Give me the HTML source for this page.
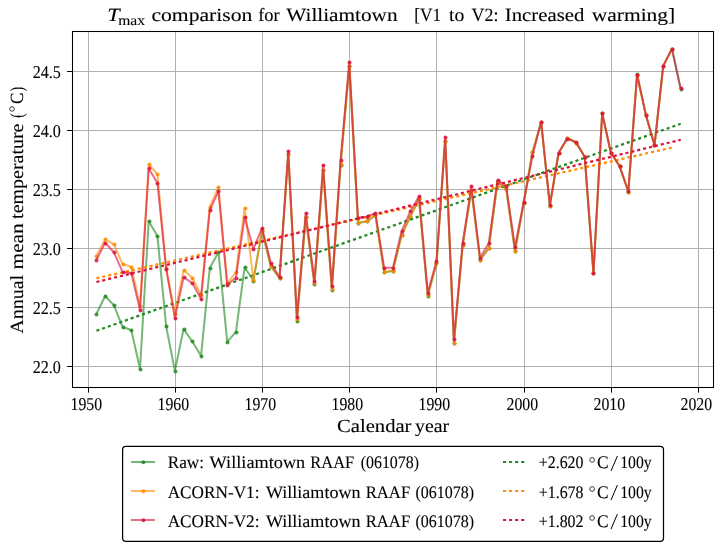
<!DOCTYPE html>
<html><head><meta charset="utf-8"><title>Tmax comparison for Williamtown</title>
<style>
html,body{margin:0;padding:0;background:#fff;}
svg{display:block;will-change:transform;opacity:0.9999;}
text{font-family:"Liberation Serif",serif;fill:#000;stroke:#000;stroke-width:0.1px;text-rendering:geometricPrecision;}
</style></head><body>
<svg width="726" height="551" viewBox="0 0 726 551">
<rect x="0" y="0" width="726" height="551" fill="#fff"/>
<g stroke="#b0b0b0" stroke-width="1" fill="none" shape-rendering="crispEdges"><line x1="88.5" y1="31.5" x2="88.5" y2="387.5"/><line x1="175.5" y1="31.5" x2="175.5" y2="387.5"/><line x1="262.5" y1="31.5" x2="262.5" y2="387.5"/><line x1="349.5" y1="31.5" x2="349.5" y2="387.5"/><line x1="436.5" y1="31.5" x2="436.5" y2="387.5"/><line x1="524.5" y1="31.5" x2="524.5" y2="387.5"/><line x1="611.5" y1="31.5" x2="611.5" y2="387.5"/><line x1="698.5" y1="31.5" x2="698.5" y2="387.5"/><line x1="72.5" y1="71.5" x2="713.5" y2="71.5"/><line x1="72.5" y1="130.5" x2="713.5" y2="130.5"/><line x1="72.5" y1="189.5" x2="713.5" y2="189.5"/><line x1="72.5" y1="248.5" x2="713.5" y2="248.5"/><line x1="72.5" y1="307.5" x2="713.5" y2="307.5"/><line x1="72.5" y1="366.5" x2="713.5" y2="366.5"/></g>
<clipPath id="ax"><rect x="72.5" y="31.5" width="641.0" height="356.0"/></clipPath>
<g clip-path="url(#ax)">
<g opacity="0.62"><polyline points="96.40,314.05 105.12,296.05 113.84,305.25 122.56,326.95 131.28,329.95 140.00,369.05 148.72,221.25 157.44,236.05 166.16,326.45 174.88,370.75 183.60,328.95 192.32,341.45 201.04,355.85 209.76,268.05 218.48,252.25 227.20,341.95 235.93,331.95 244.65,267.25 253.37,280.55 262.09,230.65 270.81,266.45 279.53,278.15 288.25,154.35 296.97,321.45 305.69,217.15 314.41,284.45 323.13,170.15 331.85,289.65 340.57,164.85 349.29,65.95 358.01,222.95 366.73,221.45 375.45,215.45 384.17,272.35 392.89,271.05 401.61,235.15 410.33,216.85 419.05,198.85 427.77,295.65 436.49,263.45 445.21,140.95 453.93,343.15 462.65,245.45 471.37,190.15 480.09,260.15 488.81,248.45 497.53,181.65 506.25,189.35 514.97,251.45 523.69,203.15 532.42,152.45 541.14,122.25 549.86,205.55 558.58,153.05 567.30,137.95 576.02,142.55 584.74,157.05 593.46,273.35 602.18,113.25 610.90,153.05 619.62,166.25 628.34,191.75 637.06,74.25 645.78,114.55 654.50,145.35 663.22,65.85 671.94,48.55 680.66,88.95" fill="none" stroke="#228b22" stroke-width="2.0" stroke-linejoin="round" stroke-linecap="butt"/></g>
<g fill="#228b22" opacity="0.85"><circle cx="96.5" cy="314.5" r="2.0"/><circle cx="105.5" cy="296.5" r="2.0"/><circle cx="114.5" cy="305.5" r="2.0"/><circle cx="123.5" cy="327.5" r="2.0"/><circle cx="131.5" cy="330.5" r="2.0"/><circle cx="140.5" cy="369.5" r="2.0"/><circle cx="149.5" cy="221.5" r="2.0"/><circle cx="157.5" cy="236.5" r="2.0"/><circle cx="166.5" cy="326.5" r="2.0"/><circle cx="175.5" cy="371.5" r="2.0"/><circle cx="184.5" cy="329.5" r="2.0"/><circle cx="192.5" cy="341.5" r="2.0"/><circle cx="201.5" cy="356.5" r="2.0"/><circle cx="210.5" cy="268.5" r="2.0"/><circle cx="218.5" cy="252.5" r="2.0"/><circle cx="227.5" cy="342.5" r="2.0"/><circle cx="236.5" cy="332.5" r="2.0"/><circle cx="245.5" cy="267.5" r="2.0"/><circle cx="253.5" cy="281.5" r="2.0"/><circle cx="262.5" cy="231.5" r="2.0"/><circle cx="271.5" cy="266.5" r="2.0"/><circle cx="280.5" cy="278.5" r="2.0"/><circle cx="288.5" cy="154.5" r="2.0"/><circle cx="297.5" cy="321.5" r="2.0"/><circle cx="306.5" cy="217.5" r="2.0"/><circle cx="314.5" cy="284.5" r="2.0"/><circle cx="323.5" cy="170.5" r="2.0"/><circle cx="332.5" cy="290.5" r="2.0"/><circle cx="341.5" cy="165.5" r="2.0"/><circle cx="349.5" cy="66.5" r="2.0"/><circle cx="358.5" cy="223.5" r="2.0"/><circle cx="367.5" cy="221.5" r="2.0"/><circle cx="375.5" cy="215.5" r="2.0"/><circle cx="384.5" cy="272.5" r="2.0"/><circle cx="393.5" cy="271.5" r="2.0"/><circle cx="402.5" cy="235.5" r="2.0"/><circle cx="410.5" cy="217.5" r="2.0"/><circle cx="419.5" cy="199.5" r="2.0"/><circle cx="428.5" cy="296.5" r="2.0"/><circle cx="436.5" cy="263.5" r="2.0"/><circle cx="445.5" cy="141.5" r="2.0"/><circle cx="454.5" cy="343.5" r="2.0"/><circle cx="463.5" cy="245.5" r="2.0"/><circle cx="471.5" cy="190.5" r="2.0"/><circle cx="480.5" cy="260.5" r="2.0"/><circle cx="489.5" cy="248.5" r="2.0"/><circle cx="498.5" cy="182.5" r="2.0"/><circle cx="506.5" cy="189.5" r="2.0"/><circle cx="515.5" cy="251.5" r="2.0"/><circle cx="524.5" cy="203.5" r="2.0"/><circle cx="532.5" cy="152.5" r="2.0"/><circle cx="541.5" cy="122.5" r="2.0"/><circle cx="550.5" cy="206.5" r="2.0"/><circle cx="559.5" cy="153.5" r="2.0"/><circle cx="567.5" cy="138.5" r="2.0"/><circle cx="576.5" cy="143.5" r="2.0"/><circle cx="585.5" cy="157.5" r="2.0"/><circle cx="593.5" cy="273.5" r="2.0"/><circle cx="602.5" cy="113.5" r="2.0"/><circle cx="611.5" cy="153.5" r="2.0"/><circle cx="620.5" cy="166.5" r="2.0"/><circle cx="628.5" cy="192.5" r="2.0"/><circle cx="637.5" cy="74.5" r="2.0"/><circle cx="646.5" cy="115.5" r="2.0"/><circle cx="654.5" cy="145.5" r="2.0"/><circle cx="663.5" cy="66.5" r="2.0"/><circle cx="672.5" cy="49.5" r="2.0"/><circle cx="681.5" cy="89.5" r="2.0"/></g>
<line x1="96.4" y1="330.8" x2="680.7" y2="123.8" stroke="#228b22" stroke-width="2.25" stroke-dasharray="3.1 2.95"/>
<g opacity="0.62"><polyline points="96.40,255.95 105.12,239.25 113.84,244.45 122.56,264.05 131.28,266.75 140.00,306.45 148.72,164.45 157.44,174.25 166.16,268.25 174.88,313.75 183.60,270.05 192.32,277.75 201.04,295.25 209.76,206.95 218.48,187.25 227.20,283.45 235.93,272.25 244.65,208.05 253.37,279.75 262.09,230.25 270.81,266.05 279.53,277.75 288.25,153.95 296.97,319.45 305.69,216.75 314.41,283.05 323.13,169.75 331.85,289.25 340.57,164.45 349.29,65.55 358.01,222.55 366.73,221.05 375.45,215.05 384.17,271.95 392.89,270.55 401.61,234.75 410.33,216.45 419.05,198.45 427.77,295.25 436.49,263.05 445.21,140.55 453.93,342.75 462.65,245.05 471.37,189.75 480.09,259.75 488.81,248.05 497.53,181.25 506.25,188.95 514.97,251.05 523.69,202.75 532.42,152.05 541.14,122.25 549.86,205.55 558.58,153.05 567.30,138.25 576.02,142.55 584.74,157.05 593.46,273.35 602.18,113.25 610.90,153.05 619.62,166.25 628.34,191.75 637.06,74.75 645.78,114.55 654.50,145.35 663.22,65.85 671.94,49.05" fill="none" stroke="#ff8c00" stroke-width="2.0" stroke-linejoin="round" stroke-linecap="butt"/></g>
<g fill="#ff8c00" opacity="0.85"><circle cx="96.5" cy="256.5" r="2.0"/><circle cx="105.5" cy="239.5" r="2.0"/><circle cx="114.5" cy="244.5" r="2.0"/><circle cx="123.5" cy="264.5" r="2.0"/><circle cx="131.5" cy="267.5" r="2.0"/><circle cx="140.5" cy="306.5" r="2.0"/><circle cx="149.5" cy="164.5" r="2.0"/><circle cx="157.5" cy="174.5" r="2.0"/><circle cx="166.5" cy="268.5" r="2.0"/><circle cx="175.5" cy="314.5" r="2.0"/><circle cx="184.5" cy="270.5" r="2.0"/><circle cx="192.5" cy="278.5" r="2.0"/><circle cx="201.5" cy="295.5" r="2.0"/><circle cx="210.5" cy="207.5" r="2.0"/><circle cx="218.5" cy="187.5" r="2.0"/><circle cx="227.5" cy="283.5" r="2.0"/><circle cx="236.5" cy="272.5" r="2.0"/><circle cx="245.5" cy="208.5" r="2.0"/><circle cx="253.5" cy="280.5" r="2.0"/><circle cx="262.5" cy="230.5" r="2.0"/><circle cx="271.5" cy="266.5" r="2.0"/><circle cx="280.5" cy="278.5" r="2.0"/><circle cx="288.5" cy="154.5" r="2.0"/><circle cx="297.5" cy="319.5" r="2.0"/><circle cx="306.5" cy="217.5" r="2.0"/><circle cx="314.5" cy="283.5" r="2.0"/><circle cx="323.5" cy="170.5" r="2.0"/><circle cx="332.5" cy="289.5" r="2.0"/><circle cx="341.5" cy="164.5" r="2.0"/><circle cx="349.5" cy="66.5" r="2.0"/><circle cx="358.5" cy="223.5" r="2.0"/><circle cx="367.5" cy="221.5" r="2.0"/><circle cx="375.5" cy="215.5" r="2.0"/><circle cx="384.5" cy="272.5" r="2.0"/><circle cx="393.5" cy="271.5" r="2.0"/><circle cx="402.5" cy="235.5" r="2.0"/><circle cx="410.5" cy="216.5" r="2.0"/><circle cx="419.5" cy="198.5" r="2.0"/><circle cx="428.5" cy="295.5" r="2.0"/><circle cx="436.5" cy="263.5" r="2.0"/><circle cx="445.5" cy="141.5" r="2.0"/><circle cx="454.5" cy="343.5" r="2.0"/><circle cx="463.5" cy="245.5" r="2.0"/><circle cx="471.5" cy="190.5" r="2.0"/><circle cx="480.5" cy="260.5" r="2.0"/><circle cx="489.5" cy="248.5" r="2.0"/><circle cx="498.5" cy="181.5" r="2.0"/><circle cx="506.5" cy="189.5" r="2.0"/><circle cx="515.5" cy="251.5" r="2.0"/><circle cx="524.5" cy="203.5" r="2.0"/><circle cx="532.5" cy="152.5" r="2.0"/><circle cx="541.5" cy="122.5" r="2.0"/><circle cx="550.5" cy="206.5" r="2.0"/><circle cx="559.5" cy="153.5" r="2.0"/><circle cx="567.5" cy="138.5" r="2.0"/><circle cx="576.5" cy="143.5" r="2.0"/><circle cx="585.5" cy="157.5" r="2.0"/><circle cx="593.5" cy="273.5" r="2.0"/><circle cx="602.5" cy="113.5" r="2.0"/><circle cx="611.5" cy="153.5" r="2.0"/><circle cx="620.5" cy="166.5" r="2.0"/><circle cx="628.5" cy="192.5" r="2.0"/><circle cx="637.5" cy="75.5" r="2.0"/><circle cx="646.5" cy="115.5" r="2.0"/><circle cx="654.5" cy="145.5" r="2.0"/><circle cx="663.5" cy="66.5" r="2.0"/><circle cx="672.5" cy="49.5" r="2.0"/></g>
<line x1="96.4" y1="278.3" x2="671.9" y2="147.6" stroke="#ff8c00" stroke-width="2.25" stroke-dasharray="3.1 2.95"/>
<g opacity="0.62"><polyline points="96.40,260.05 105.12,242.75 113.84,252.25 122.56,271.95 131.28,273.05 140.00,309.85 148.72,168.45 157.44,183.05 166.16,268.95 174.88,318.05 183.60,277.25 192.32,283.05 201.04,298.95 209.76,210.05 218.48,191.45 227.20,284.75 235.93,277.75 244.65,217.05 253.37,248.95 262.09,227.95 270.81,263.05 279.53,277.25 288.25,151.05 296.97,316.95 305.69,212.95 314.41,280.75 323.13,165.05 331.85,285.95 340.57,160.05 349.29,61.95 358.01,217.75 366.73,216.75 375.45,213.05 384.17,267.75 392.89,267.75 401.61,231.05 410.33,211.45 419.05,196.25 427.77,292.75 436.49,260.95 445.21,136.95 453.93,338.95 462.65,243.05 471.37,186.05 480.09,257.75 488.81,243.05 497.53,179.75 506.25,186.45 514.97,246.95 523.69,201.95 532.42,156.05 541.14,121.95 549.86,205.15 558.58,152.75 567.30,138.55 576.02,142.05 584.74,156.75 593.46,273.05 602.18,113.05 610.90,152.75 619.62,165.95 628.34,191.45 637.06,74.75 645.78,114.55 654.50,145.15 663.22,65.85 671.94,49.05 680.66,88.45" fill="none" stroke="#dc143c" stroke-width="2.0" stroke-linejoin="round" stroke-linecap="butt"/></g>
<g fill="#dc143c" opacity="0.85"><circle cx="96.5" cy="260.5" r="2.0"/><circle cx="105.5" cy="243.5" r="2.0"/><circle cx="114.5" cy="252.5" r="2.0"/><circle cx="123.5" cy="272.5" r="2.0"/><circle cx="131.5" cy="273.5" r="2.0"/><circle cx="140.5" cy="310.5" r="2.0"/><circle cx="149.5" cy="168.5" r="2.0"/><circle cx="157.5" cy="183.5" r="2.0"/><circle cx="166.5" cy="269.5" r="2.0"/><circle cx="175.5" cy="318.5" r="2.0"/><circle cx="184.5" cy="277.5" r="2.0"/><circle cx="192.5" cy="283.5" r="2.0"/><circle cx="201.5" cy="299.5" r="2.0"/><circle cx="210.5" cy="210.5" r="2.0"/><circle cx="218.5" cy="191.5" r="2.0"/><circle cx="227.5" cy="285.5" r="2.0"/><circle cx="236.5" cy="278.5" r="2.0"/><circle cx="245.5" cy="217.5" r="2.0"/><circle cx="253.5" cy="249.5" r="2.0"/><circle cx="262.5" cy="228.5" r="2.0"/><circle cx="271.5" cy="263.5" r="2.0"/><circle cx="280.5" cy="277.5" r="2.0"/><circle cx="288.5" cy="151.5" r="2.0"/><circle cx="297.5" cy="317.5" r="2.0"/><circle cx="306.5" cy="213.5" r="2.0"/><circle cx="314.5" cy="281.5" r="2.0"/><circle cx="323.5" cy="165.5" r="2.0"/><circle cx="332.5" cy="286.5" r="2.0"/><circle cx="341.5" cy="160.5" r="2.0"/><circle cx="349.5" cy="62.5" r="2.0"/><circle cx="358.5" cy="218.5" r="2.0"/><circle cx="367.5" cy="217.5" r="2.0"/><circle cx="375.5" cy="213.5" r="2.0"/><circle cx="384.5" cy="268.5" r="2.0"/><circle cx="393.5" cy="268.5" r="2.0"/><circle cx="402.5" cy="231.5" r="2.0"/><circle cx="410.5" cy="211.5" r="2.0"/><circle cx="419.5" cy="196.5" r="2.0"/><circle cx="428.5" cy="293.5" r="2.0"/><circle cx="436.5" cy="261.5" r="2.0"/><circle cx="445.5" cy="137.5" r="2.0"/><circle cx="454.5" cy="339.5" r="2.0"/><circle cx="463.5" cy="243.5" r="2.0"/><circle cx="471.5" cy="186.5" r="2.0"/><circle cx="480.5" cy="258.5" r="2.0"/><circle cx="489.5" cy="243.5" r="2.0"/><circle cx="498.5" cy="180.5" r="2.0"/><circle cx="506.5" cy="186.5" r="2.0"/><circle cx="515.5" cy="247.5" r="2.0"/><circle cx="524.5" cy="202.5" r="2.0"/><circle cx="532.5" cy="156.5" r="2.0"/><circle cx="541.5" cy="122.5" r="2.0"/><circle cx="550.5" cy="205.5" r="2.0"/><circle cx="559.5" cy="153.5" r="2.0"/><circle cx="567.5" cy="139.5" r="2.0"/><circle cx="576.5" cy="142.5" r="2.0"/><circle cx="585.5" cy="157.5" r="2.0"/><circle cx="593.5" cy="273.5" r="2.0"/><circle cx="602.5" cy="113.5" r="2.0"/><circle cx="611.5" cy="153.5" r="2.0"/><circle cx="620.5" cy="166.5" r="2.0"/><circle cx="628.5" cy="191.5" r="2.0"/><circle cx="637.5" cy="75.5" r="2.0"/><circle cx="646.5" cy="115.5" r="2.0"/><circle cx="654.5" cy="145.5" r="2.0"/><circle cx="663.5" cy="66.5" r="2.0"/><circle cx="672.5" cy="49.5" r="2.0"/><circle cx="681.5" cy="88.5" r="2.0"/></g>
<line x1="96.4" y1="282.0" x2="680.7" y2="139.8" stroke="#dc143c" stroke-width="2.25" stroke-dasharray="3.1 2.95"/>
</g>
<g stroke="#000" stroke-width="1"><line x1="88.5" y1="387.5" x2="88.5" y2="392.6"/><line x1="175.5" y1="387.5" x2="175.5" y2="392.6"/><line x1="262.5" y1="387.5" x2="262.5" y2="392.6"/><line x1="349.5" y1="387.5" x2="349.5" y2="392.6"/><line x1="436.5" y1="387.5" x2="436.5" y2="392.6"/><line x1="524.5" y1="387.5" x2="524.5" y2="392.6"/><line x1="611.5" y1="387.5" x2="611.5" y2="392.6"/><line x1="698.5" y1="387.5" x2="698.5" y2="392.6"/><line x1="67.1" y1="71.5" x2="72.5" y2="71.5"/><line x1="67.1" y1="130.5" x2="72.5" y2="130.5"/><line x1="67.1" y1="189.5" x2="72.5" y2="189.5"/><line x1="67.1" y1="248.5" x2="72.5" y2="248.5"/><line x1="67.1" y1="307.5" x2="72.5" y2="307.5"/><line x1="67.1" y1="366.5" x2="72.5" y2="366.5"/></g>
<rect x="72.5" y="31.5" width="641.0" height="356.0" fill="none" stroke="#000" stroke-width="1.05"/>
<text x="70.5" y="409.7" font-size="18.0" text-anchor="start" textLength="31.6" lengthAdjust="spacingAndGlyphs">1950</text>
<text x="157.5" y="409.7" font-size="18.0" text-anchor="start" textLength="31.6" lengthAdjust="spacingAndGlyphs">1960</text>
<text x="244.5" y="409.7" font-size="18.0" text-anchor="start" textLength="31.6" lengthAdjust="spacingAndGlyphs">1970</text>
<text x="331.5" y="409.7" font-size="18.0" text-anchor="start" textLength="31.6" lengthAdjust="spacingAndGlyphs">1980</text>
<text x="418.5" y="409.7" font-size="18.0" text-anchor="start" textLength="31.6" lengthAdjust="spacingAndGlyphs">1990</text>
<text x="506.5" y="409.7" font-size="18.0" text-anchor="start" textLength="31.6" lengthAdjust="spacingAndGlyphs">2000</text>
<text x="593.5" y="409.7" font-size="18.0" text-anchor="start" textLength="31.6" lengthAdjust="spacingAndGlyphs">2010</text>
<text x="680.5" y="409.7" font-size="18.0" text-anchor="start" textLength="31.6" lengthAdjust="spacingAndGlyphs">2020</text>
<text x="32.7" y="78.0" font-size="18.0" text-anchor="start" textLength="28.2" lengthAdjust="spacingAndGlyphs">24.5</text>
<text x="32.7" y="137.0" font-size="18.0" text-anchor="start" textLength="28.2" lengthAdjust="spacingAndGlyphs">24.0</text>
<text x="32.7" y="196.0" font-size="18.0" text-anchor="start" textLength="28.2" lengthAdjust="spacingAndGlyphs">23.5</text>
<text x="32.7" y="255.0" font-size="18.0" text-anchor="start" textLength="28.2" lengthAdjust="spacingAndGlyphs">23.0</text>
<text x="32.7" y="314.0" font-size="18.0" text-anchor="start" textLength="28.2" lengthAdjust="spacingAndGlyphs">22.5</text>
<text x="32.7" y="373.0" font-size="18.0" text-anchor="start" textLength="28.2" lengthAdjust="spacingAndGlyphs">22.0</text>
<text x="337.0" y="432.3" font-size="18.6" text-anchor="start" textLength="74.5" lengthAdjust="spacingAndGlyphs">Calendar</text>
<text x="415.0" y="432.3" font-size="18.6" text-anchor="start" textLength="34.2" lengthAdjust="spacingAndGlyphs">year</text>
<g transform="translate(22.9,333.7) rotate(-90)"><text x="0.0" y="0.0" font-size="18.6" text-anchor="start" textLength="58.8" lengthAdjust="spacingAndGlyphs">Annual</text>
<text x="64.3" y="0.0" font-size="18.6" text-anchor="start" textLength="46.1" lengthAdjust="spacingAndGlyphs">mean</text>
<text x="114.8" y="0.0" font-size="18.6" text-anchor="start" textLength="95.4" lengthAdjust="spacingAndGlyphs">temperature</text>
<text x="215.9" y="0.0" font-size="18.6" text-anchor="start" textLength="4.5" lengthAdjust="spacingAndGlyphs">(</text>
<circle cx="224.75" cy="-10.9" r="2.35" fill="none" stroke="#000" stroke-width="0.75"/><text x="229.7" y="0.0" font-size="18.6" text-anchor="start" textLength="11.4" lengthAdjust="spacingAndGlyphs">C</text>
<text x="242.5" y="0.0" font-size="18.6" text-anchor="start" textLength="4.3" lengthAdjust="spacingAndGlyphs">)</text>
</g>
<text x="107.3" y="20.7" font-size="18.6" font-style="italic" textLength="12.4" lengthAdjust="spacingAndGlyphs">T</text>
<text x="118.2" y="24.6" font-size="14.0" text-anchor="start" textLength="26.8" lengthAdjust="spacingAndGlyphs">max</text>
<text x="151.4" y="20.7" font-size="18.6" text-anchor="start" textLength="101.0" lengthAdjust="spacingAndGlyphs">comparison</text>
<text x="258.2" y="20.7" font-size="18.6" text-anchor="start" textLength="21.5" lengthAdjust="spacingAndGlyphs">for</text>
<text x="286.3" y="20.7" font-size="18.6" text-anchor="start" textLength="111.3" lengthAdjust="spacingAndGlyphs">Williamtown</text>
<text x="414.3" y="20.7" font-size="18.6" text-anchor="start" textLength="26.9" lengthAdjust="spacingAndGlyphs">[V1</text>
<text x="449.0" y="20.7" font-size="18.6" text-anchor="start" textLength="15.3" lengthAdjust="spacingAndGlyphs">to</text>
<text x="471.5" y="20.7" font-size="18.6" text-anchor="start" textLength="26.9" lengthAdjust="spacingAndGlyphs">V2:</text>
<text x="504.8" y="20.7" font-size="18.6" text-anchor="start" textLength="79.6" lengthAdjust="spacingAndGlyphs">Increased</text>
<text x="591.7" y="20.7" font-size="18.6" text-anchor="start" textLength="83.6" lengthAdjust="spacingAndGlyphs">warming]</text>
<rect x="122.6" y="446.4" width="540.9" height="94.9" rx="3.3" ry="3.3" fill="#fff" stroke="#000" stroke-width="1.25"/>
<g opacity="0.62"><line x1="131.0" y1="462.0" x2="155.0" y2="462.0" stroke="#228b22" stroke-width="2.0"/></g><circle cx="143.4" cy="462.2" r="2.0" fill="#228b22" opacity="0.85"/>
<line x1="503.0" y1="462.0" x2="527.0" y2="462.0" stroke="#228b22" stroke-width="2.1" stroke-dasharray="3.1 2.95"/>
<g opacity="0.62"><line x1="131.0" y1="491.0" x2="155.0" y2="491.0" stroke="#ff8c00" stroke-width="2.0"/></g><circle cx="143.4" cy="491.2" r="2.0" fill="#ff8c00" opacity="0.85"/>
<line x1="503.0" y1="491.0" x2="527.0" y2="491.0" stroke="#ff8c00" stroke-width="2.1" stroke-dasharray="3.1 2.95"/>
<g opacity="0.62"><line x1="131.0" y1="520.0" x2="155.0" y2="520.0" stroke="#dc143c" stroke-width="2.0"/></g><circle cx="143.4" cy="520.2" r="2.0" fill="#dc143c" opacity="0.85"/>
<line x1="503.0" y1="520.0" x2="527.0" y2="520.0" stroke="#dc143c" stroke-width="2.1" stroke-dasharray="3.1 2.95"/>
<text x="167.7" y="468.4" font-size="17.6" text-anchor="start" textLength="36.3" lengthAdjust="spacingAndGlyphs">Raw:</text>
<text x="209.6" y="468.4" font-size="17.6" text-anchor="start" textLength="95.6" lengthAdjust="spacingAndGlyphs">Williamtown</text>
<text x="310.3" y="468.4" font-size="17.6" text-anchor="start" textLength="43.9" lengthAdjust="spacingAndGlyphs">RAAF</text>
<text x="360.7" y="468.4" font-size="17.6" text-anchor="start" textLength="58.3" lengthAdjust="spacingAndGlyphs">(061078)</text>
<text x="167.7" y="497.5" font-size="17.6" text-anchor="start" textLength="91.8" lengthAdjust="spacingAndGlyphs">ACORN-V1:</text>
<text x="266.0" y="497.5" font-size="17.6" text-anchor="start" textLength="94.5" lengthAdjust="spacingAndGlyphs">Williamtown</text>
<text x="365.7" y="497.5" font-size="17.6" text-anchor="start" textLength="44.5" lengthAdjust="spacingAndGlyphs">RAAF</text>
<text x="415.5" y="497.5" font-size="17.6" text-anchor="start" textLength="58.6" lengthAdjust="spacingAndGlyphs">(061078)</text>
<text x="167.7" y="526.5" font-size="17.6" text-anchor="start" textLength="91.8" lengthAdjust="spacingAndGlyphs">ACORN-V2:</text>
<text x="266.0" y="526.5" font-size="17.6" text-anchor="start" textLength="94.5" lengthAdjust="spacingAndGlyphs">Williamtown</text>
<text x="365.7" y="526.5" font-size="17.6" text-anchor="start" textLength="44.5" lengthAdjust="spacingAndGlyphs">RAAF</text>
<text x="415.5" y="526.5" font-size="17.6" text-anchor="start" textLength="58.6" lengthAdjust="spacingAndGlyphs">(061078)</text>
<text x="538.8" y="468.4" font-size="17.6" text-anchor="start" textLength="44.7" lengthAdjust="spacingAndGlyphs">+2.620</text>
<circle cx="592.1" cy="459.9" r="2.35" fill="none" stroke="#000" stroke-width="0.75"/>
<text x="597.1" y="468.4" font-size="17.6" text-anchor="start" textLength="11.6" lengthAdjust="spacingAndGlyphs">C</text>
<line x1="611.0" y1="471.0" x2="617.4" y2="456.0" stroke="#000" stroke-width="1.0"/>
<text x="620.2" y="468.4" font-size="17.6" text-anchor="start" textLength="31.4" lengthAdjust="spacingAndGlyphs">100y</text>
<text x="538.8" y="497.5" font-size="17.6" text-anchor="start" textLength="44.7" lengthAdjust="spacingAndGlyphs">+1.678</text>
<circle cx="592.1" cy="489.0" r="2.35" fill="none" stroke="#000" stroke-width="0.75"/>
<text x="597.1" y="497.5" font-size="17.6" text-anchor="start" textLength="11.6" lengthAdjust="spacingAndGlyphs">C</text>
<line x1="611.0" y1="500.1" x2="617.4" y2="485.1" stroke="#000" stroke-width="1.0"/>
<text x="620.2" y="497.5" font-size="17.6" text-anchor="start" textLength="31.4" lengthAdjust="spacingAndGlyphs">100y</text>
<text x="538.8" y="526.5" font-size="17.6" text-anchor="start" textLength="44.7" lengthAdjust="spacingAndGlyphs">+1.802</text>
<circle cx="592.1" cy="518.0" r="2.35" fill="none" stroke="#000" stroke-width="0.75"/>
<text x="597.1" y="526.5" font-size="17.6" text-anchor="start" textLength="11.6" lengthAdjust="spacingAndGlyphs">C</text>
<line x1="611.0" y1="529.1" x2="617.4" y2="514.1" stroke="#000" stroke-width="1.0"/>
<text x="620.2" y="526.5" font-size="17.6" text-anchor="start" textLength="31.4" lengthAdjust="spacingAndGlyphs">100y</text>
</svg>
</body></html>
